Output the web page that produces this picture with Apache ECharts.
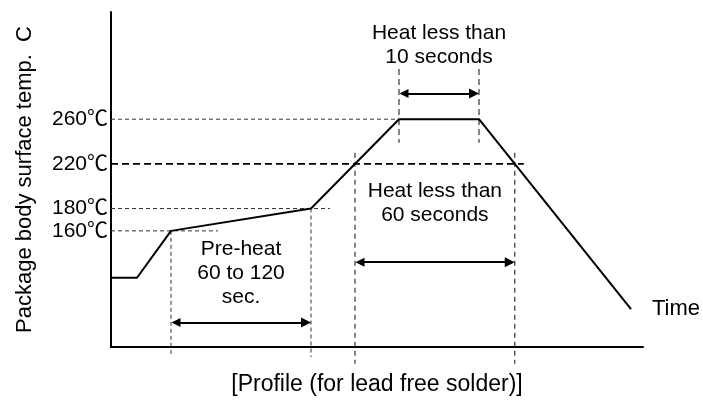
<!DOCTYPE html>
<html>
<head>
<meta charset="utf-8">
<script src="https://cdn.jsdelivr.net/npm/echarts@6/dist/echarts.min.js"></script>
<style>
  html, body { margin: 0; padding: 0; background: #fff; }
  #chart { width: 703px; height: 405px; }
</style>
</head>
<body>
<div id="chart"></div>
<script>
// Reflow soldering temperature profile (schematic, lead-free solder)
const profileTime = [0, 13, 30, 100, 144, 184, 260];
const profileTemp = [118, 118, 160, 180, 260, 260, 90];
const tempTicks = [160, 180, 220, 260];
const reflowTemp = 220;
const yTitle = 'Package body surface temp.  C';
const xTitle = '[Profile (for lead free solder)]';
const endText = 'Time';
const noteTexts = ['Pre-heat\n60 to 120\nsec.', 'Heat less than\n60 seconds', 'Heat less than\n10 seconds'];

const FONT = "'Liberation Sans', Arial, 'Noto Sans CJK JP', sans-serif";

// times where the profile passes a given temperature
function crossings(level) {
  const out = [];
  for (let i = 1; i < profileTime.length; i++) {
    const a = profileTemp[i - 1], b = profileTemp[i];
    if ((a - level) * (b - level) < 0) {
      out.push(profileTime[i - 1] + (level - a) / (b - a) * (profileTime[i] - profileTime[i - 1]));
    }
  }
  return out;
}

const preStart = profileTime[2], preEnd = profileTime[3];
const peakStart = profileTime[4], peakEnd = profileTime[5];
const [reflowIn, reflowOut] = crossings(reflowTemp);

function guide(points, dash, width, color) {
  return {
    type: 'line', data: points, symbol: 'none', silent: true, clip: false,
    lineStyle: { type: dash, width: width, color: color }, z: 1
  };
}

const thin = '#333';
const arrowInset = 2.5;
function arrow(t1, t2, level) {
  return {
    coords: [[t1 + arrowInset, level], [t2 - arrowInset, level]]
  };
}

const profile = profileTime.map((t, i) => [t, profileTemp[i]]);

const option = {
  animation: false,
  backgroundColor: '#fff',
  textStyle: { fontFamily: FONT, color: '#000' },
  grid: { left: 111, right: 60, top: 12, bottom: 58 },
  xAxis: {
    type: 'value', min: 0, max: 266,
    axisLine: { show: true, lineStyle: { color: '#000', width: 2 } },
    axisTick: { show: false }, axisLabel: { show: false }, splitLine: { show: false },
    name: xTitle, nameLocation: 'middle', nameGap: 26,
    nameTextStyle: { fontSize: 23, color: '#000', fontFamily: FONT }
  },
  yAxis: {
    type: 'value', min: 56, max: 356,
    axisLine: { show: true, lineStyle: { color: '#000', width: 2 } },
    axisTick: { show: false }, splitLine: { show: false },
    axisLabel: {
      customValues: tempTicks, formatter: '{value}℃',
      fontSize: 21, color: '#000', margin: 3, fontFamily: FONT
    },
    name: yTitle, nameLocation: 'middle', nameRotate: 90, nameGap: 75,
    nameTextStyle: { fontSize: 22, color: '#000', fontFamily: FONT }
  },
  series: [
    // horizontal temperature guides
    guide([[0, 260], [peakStart, 260]], [4, 3], 1, thin),
    guide([[0, reflowTemp], [reflowOut + 4.5, reflowTemp]], [7, 4], 1.8, '#000'),
    guide([[0, 180], [preEnd + 9.5, 180]], [4, 3], 1, thin),
    guide([[0, 160], [preStart + 23.5, 160]], [4, 3], 1, thin),
    // vertical time guides
    guide([[preStart, 160], [preStart, 47]], [4, 3], 1, thin),
    guide([[preEnd, 180], [preEnd, 47]], [4, 3], 1, thin),
    guide([[reflowIn, 230], [reflowIn, 41]], [5, 4], 1.2, thin),
    guide([[reflowOut, 230], [reflowOut, 41]], [5, 4], 1.2, thin),
    guide([[peakStart, 305], [peakStart, 239]], [6, 4], 1.2, thin),
    guide([[peakEnd, 305], [peakEnd, 239]], [6, 4], 1.2, thin),
    {
      type: 'line', data: profile, symbol: 'none', z: 3,
      lineStyle: { color: '#000', width: 2 },
      endLabel: { show: true, formatter: endText, distance: 21, fontSize: 22, color: '#000', fontFamily: FONT }
    },
    {
      type: 'lines', coordinateSystem: 'cartesian2d', z: 4, silent: true,
      symbol: ['triangle', 'triangle'], symbolSize: [9, 10],
      lineStyle: { color: '#000', width: 2, opacity: 1, curveness: 0 },
      itemStyle: { color: '#000' },
      data: [
        arrow(preStart, preEnd, 78),
        arrow(reflowIn, reflowOut, 132),
        arrow(peakStart, peakEnd, 283)
      ]
    },
    {
      type: 'scatter', symbol: 'circle', symbolSize: 0, silent: true, z: 5,
      itemStyle: { color: '#000', opacity: 1 },
      label: {
        show: true, position: 'inside', align: 'center', verticalAlign: 'middle',
        fontSize: 21, lineHeight: 24, color: '#000', opacity: 1, fontFamily: FONT,
        formatter: p => noteTexts[p.dataIndex]
      },
      emphasis: { disabled: true },
      data: [
        [(preStart + preEnd) / 2, 122],
        [(reflowIn + reflowOut) / 2, 185],
        [(peakStart + peakEnd) / 2, 326]
      ]
    }
  ]
};

const chart = echarts.init(document.getElementById('chart'), null, { renderer: 'canvas' });
chart.setOption(option);
</script>
</body>
</html>
